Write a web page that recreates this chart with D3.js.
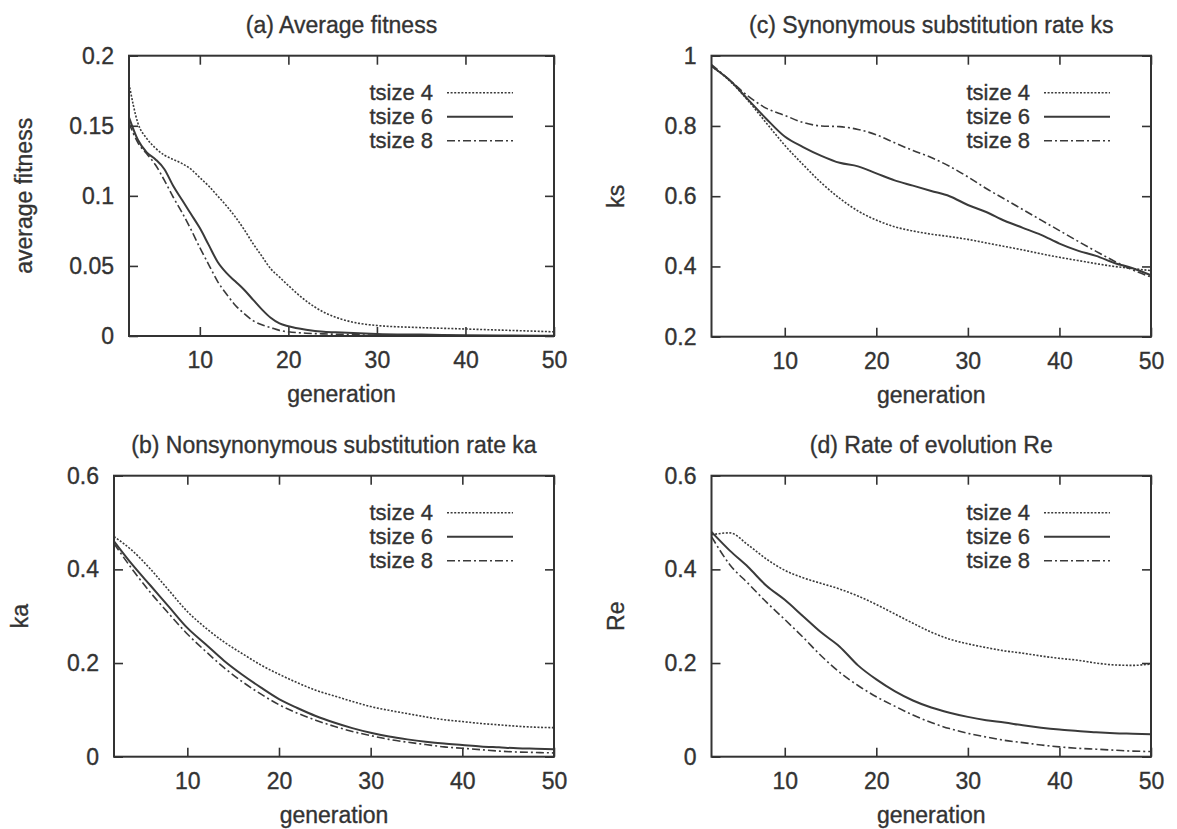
<!DOCTYPE html>
<html>
<head>
<meta charset="utf-8">
<script src="https://cdn.jsdelivr.net/npm/d3@7"></script>
<style>
  body { margin: 0; background: #fff; }
  svg text { font-family: 'Liberation Sans', Arial, sans-serif; fill: #333; stroke: #333; stroke-width: 0.35px; }
</style>
</head>
<body>
<div class="root"></div>
<script>
// generations
const genA = [2, 3, 4, 5, 6, 7, 8, 9, 10, 11, 12, 13, 14, 15, 16, 17, 18, 19, 20, 22, 24, 26, 28, 30, 35, 40, 45, 50]
const genEven = [2, 4, 6, 8, 10, 12, 14, 16, 18, 20, 22, 24, 26, 28, 30, 32, 34, 36, 38, 40, 42, 44, 46, 48, 50]

const seriesNames = ['tsize 4', 'tsize 6', 'tsize 8']

// (a) average fitness, on genA
const fit4 = [0.180, 0.152, 0.141, 0.134, 0.129, 0.126, 0.123, 0.119, 0.113, 0.107, 0.100, 0.093, 0.085, 0.076, 0.066, 0.057, 0.048, 0.042, 0.036, 0.025, 0.017, 0.012, 0.009, 0.0075, 0.006, 0.005, 0.004, 0.003]
const fit6 = [0.156, 0.140, 0.131, 0.126, 0.119, 0.107, 0.097, 0.087, 0.077, 0.065, 0.053, 0.045, 0.039, 0.033, 0.026, 0.019, 0.013, 0.009, 0.007, 0.0045, 0.003, 0.0025, 0.002, 0.0015, 0.001, 0.0005, 0.0003, 0.0002]
const fit8 = [0.152, 0.138, 0.130, 0.122, 0.111, 0.099, 0.088, 0.076, 0.063, 0.051, 0.039, 0.030, 0.022, 0.016, 0.011, 0.008, 0.006, 0.004, 0.003, 0.002, 0.0015, 0.0012, 0.0008, 0.0005, 0.0003, 0.0002, 0.0001, 0.0001]

// (b) ka, on genEven
const ka4 = [0.470, 0.440, 0.400, 0.355, 0.310, 0.275, 0.245, 0.220, 0.196, 0.176, 0.158, 0.142, 0.130, 0.118, 0.107, 0.099, 0.092, 0.085, 0.079, 0.075, 0.071, 0.068, 0.065, 0.063, 0.062]
const ka6 = [0.460, 0.410, 0.365, 0.320, 0.275, 0.240, 0.205, 0.175, 0.148, 0.123, 0.104, 0.087, 0.073, 0.061, 0.051, 0.043, 0.037, 0.032, 0.028, 0.025, 0.022, 0.020, 0.018, 0.017, 0.016]
const ka8 = [0.455, 0.400, 0.350, 0.305, 0.262, 0.225, 0.190, 0.160, 0.134, 0.111, 0.093, 0.078, 0.065, 0.054, 0.045, 0.037, 0.031, 0.026, 0.021, 0.018, 0.015, 0.012, 0.010, 0.009, 0.008]

// (c) ks, on genEven
const ks4 = [0.970, 0.928, 0.872, 0.808, 0.745, 0.690, 0.638, 0.594, 0.558, 0.532, 0.513, 0.501, 0.492, 0.485, 0.477, 0.467, 0.457, 0.447, 0.436, 0.426, 0.417, 0.408, 0.400, 0.394, 0.388]
const ks6 = [0.970, 0.930, 0.875, 0.820, 0.770, 0.740, 0.715, 0.695, 0.685, 0.665, 0.645, 0.630, 0.615, 0.600, 0.575, 0.555, 0.530, 0.510, 0.490, 0.465, 0.445, 0.430, 0.410, 0.395, 0.375]
const ks8 = [0.975, 0.930, 0.885, 0.850, 0.830, 0.810, 0.800, 0.798, 0.790, 0.775, 0.752, 0.730, 0.710, 0.685, 0.655, 0.622, 0.592, 0.562, 0.532, 0.502, 0.472, 0.443, 0.415, 0.390, 0.370]

// (d) Re, on genEven
const re4 = [0.474, 0.478, 0.452, 0.422, 0.398, 0.382, 0.370, 0.358, 0.343, 0.325, 0.305, 0.285, 0.266, 0.251, 0.241, 0.233, 0.226, 0.221, 0.215, 0.210, 0.206, 0.200, 0.196, 0.195, 0.198]
const re6 = [0.480, 0.440, 0.405, 0.365, 0.335, 0.300, 0.265, 0.235, 0.195, 0.165, 0.140, 0.120, 0.105, 0.094, 0.085, 0.078, 0.073, 0.067, 0.062, 0.058, 0.055, 0.052, 0.050, 0.049, 0.048]
const re8 = [0.470, 0.410, 0.370, 0.330, 0.293, 0.255, 0.215, 0.180, 0.152, 0.128, 0.108, 0.089, 0.073, 0.060, 0.050, 0.042, 0.035, 0.030, 0.025, 0.021, 0.018, 0.016, 0.014, 0.012, 0.011]

const xTicks = [10, 20, 30, 40, 50]

const dashes = [ '2,1.6', null, '8,3,2,3' ]

const panels = [
  { title: '(a) Average fitness', ylabel: 'average fitness', gens: genA, series: [fit4, fit6, fit8],
    yDomain: [0, 0.2], yTicks: [0, 0.05, 0.1, 0.15, 0.2], box: [129, 554, 55.7, 336], labelX: 24 },
  { title: '(b) Nonsynonymous substitution rate ka', ylabel: 'ka', gens: genEven, series: [ka4, ka6, ka8],
    yDomain: [0, 0.6], yTicks: [0, 0.2, 0.4, 0.6], box: [114, 554, 475.7, 756.7], labelX: 20 },
  { title: '(c) Synonymous substitution rate ks', ylabel: 'ks', gens: genEven, series: [ks4, ks6, ks8],
    yDomain: [0.2, 1], yTicks: [0.2, 0.4, 0.6, 0.8, 1], box: [711.5, 1151, 55.7, 336.7], labelX: 616 },
  { title: '(d) Rate of evolution Re', ylabel: 'Re', gens: genEven, series: [re4, re6, re8],
    yDomain: [0, 0.6], yTicks: [0, 0.2, 0.4, 0.6], box: [711.5, 1151, 475.7, 756.7], labelX: 616 }
]

const fontSize = 23
    , keySize = 22
    , ink = '#333'
    , tick = 9

const svg = d3.select('.root')
              .append('svg')
              .attr('width', 1177)
              .attr('height', 829)

svg.append('rect').attr('width', 1177).attr('height', 829).attr('fill', '#fff')

panels.forEach(p => {
  const [left, right, top, bottom] = p.box

  const x = d3.scaleLinear().domain([2, 50]).range([left, right])
  const y = d3.scaleLinear().domain(p.yDomain).range([bottom, top])

  const g = svg.append('g')

  // ticks on all four sides, pointing in
  g.append('g')
   .attr('transform', `translate(0, ${bottom})`)
   .call(d3.axisBottom(x).tickValues(xTicks).tickSize(-tick).tickPadding(16).tickFormat(d3.format('d')))
  g.append('g')
   .attr('transform', `translate(0, ${top})`)
   .call(d3.axisTop(x).tickValues(xTicks).tickSize(-tick).tickFormat(''))
  g.append('g')
   .attr('transform', `translate(${left}, 0)`)
   .call(d3.axisLeft(y).tickValues(p.yTicks).tickSize(-tick).tickPadding(15).tickFormat(d => String(+d.toFixed(2))))
  g.append('g')
   .attr('transform', `translate(${right}, 0)`)
   .call(d3.axisRight(y).tickValues(p.yTicks).tickSize(-tick).tickFormat(''))

  g.selectAll('.domain').remove()
  g.selectAll('.tick line').attr('stroke', ink).attr('stroke-width', 1.6)
  g.selectAll('.tick text')
   .attr('font-size', fontSize)
   .attr('font-family', "'Liberation Sans', Arial, sans-serif")
   .attr('fill', ink)

  const line = d3.line()
                 .x((d, i) => x(p.gens[i]))
                 .y(d => y(d))
                 .curve(d3.curveMonotoneX)

  p.series.forEach((s, k) => {
    g.append('path')
     .datum(s)
     .attr('d', line)
     .attr('fill', 'none')
     .attr('stroke', '#3a3a3a')
     .attr('stroke-width', k === 1 ? 2 : 1.6)
     .attr('stroke-dasharray', dashes[k])
  })

  g.append('rect')
   .attr('x', left).attr('y', top)
   .attr('width', right - left).attr('height', bottom - top)
   .attr('fill', 'none')
   .attr('stroke', ink)
   .attr('stroke-width', 2)

  // key
  seriesNames.forEach((name, k) => {
    const ky = top + 37 + k * 24
    g.append('text')
     .attr('x', right - 121)
     .attr('y', ky)
     .attr('dy', '0.35em')
     .attr('text-anchor', 'end')
     .attr('font-size', keySize)
     .text(name)
    g.append('line')
     .attr('x1', right - 107).attr('x2', right - 41)
     .attr('y1', ky).attr('y2', ky)
     .attr('stroke', '#3a3a3a')
     .attr('stroke-width', k === 1 ? 2 : 1.6)
     .attr('stroke-dasharray', dashes[k])
  })

  g.append('text')
   .attr('x', (left + right) / 2)
   .attr('y', top - 31)
   .attr('dy', '0.35em')
   .attr('text-anchor', 'middle')
   .attr('font-size', fontSize)
   .text(p.title)

  g.append('text')
   .attr('x', (left + right) / 2)
   .attr('y', bottom + 58)
   .attr('dy', '0.35em')
   .attr('text-anchor', 'middle')
   .attr('font-size', fontSize)
   .text('generation')

  g.append('text')
   .attr('transform', `translate(${p.labelX}, ${(top + bottom) / 2}) rotate(-90)`)
   .attr('dy', '0.35em')
   .attr('text-anchor', 'middle')
   .attr('font-size', fontSize)
   .text(p.ylabel)
})
</script>
</body>
</html>
